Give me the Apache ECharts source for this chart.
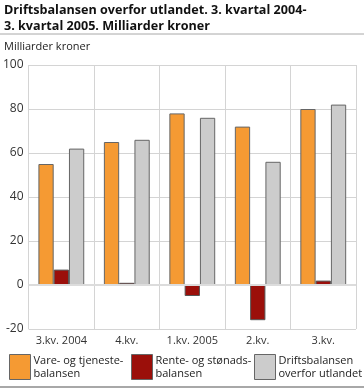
<!DOCTYPE html>
<html><head><meta charset="utf-8">
<script src="https://cdn.jsdelivr.net/npm/echarts@6/dist/echarts.min.js"></script>
<style>html,body{margin:0;padding:0;background:#fff}#c{width:364px;height:389px}</style>
</head><body><div id="c"></div>
<script>
const categories = ['3.kv. 2004', '4.kv.', '1.kv. 2005', '2.kv.', '3.kv.'];
const vare = [55, 65, 78, 72, 80];
const rente = [7, 1, -5, -16, 2];
const drifts = [62, 66, 76, 56, 82];
const seriesNames = ['Vare- og tjeneste-\nbalansen', 'Rente- og stønads-\nbalansen', 'Driftsbalansen\noverfor utlandet'];
const colors = ['#f59a33', '#9b0f0a', '#cccccc'];
const font = 'Open Sans';

const chart = echarts.init(document.getElementById('c'), null, {renderer: 'canvas'});
const legendBase = {
  orient: 'horizontal', top: 354, itemWidth: 21, itemHeight: 25, itemGap: 5,
  icon: 'rect', padding: 0,
  itemStyle: {borderColor: '#666', borderWidth: 1},
  textStyle: {fontFamily: font, fontSize: 11, color: '#222', lineHeight: 13, padding: [0,0,0,-2]}
};
chart.setOption({
  animation: false,
  color: colors,
  title: [
    {text: 'Driftsbalansen overfor utlandet. 3. kvartal 2004-\n3. kvartal 2005. Milliarder kroner', left: 4, top: 2, padding: 0,
     textStyle: {fontFamily: font, fontSize: 12.6, fontWeight: 'bold', color: '#111', lineHeight: 16}},
    {text: 'Milliarder kroner', left: 4, top: 41, padding: 0,
     textStyle: {fontFamily: font, fontSize: 11, fontWeight: 'normal', color: '#222'}}
  ],
  graphic: [
    {type: 'line', shape: {x1: 0, y1: 34, x2: 364, y2: 34}, style: {stroke: '#a8a8a8', lineWidth: 1}},
    {type: 'line', shape: {x1: 0, y1: 387, x2: 364, y2: 387}, style: {stroke: '#a8a8a8', lineWidth: 2}}
  ],
  legend: [
    Object.assign({}, legendBase, {left: 9, data: [seriesNames[0]]}),
    Object.assign({}, legendBase, {left: 131, data: [seriesNames[1]]}),
    Object.assign({}, legendBase, {left: 254, data: [seriesNames[2]]})
  ],
  grid: {left: 26, right: 8, top: 65, bottom: 60, containLabel: false},
  xAxis: {
    type: 'category', data: categories,
    axisLine: {show: false}, axisTick: {show: false, interval: 0},
    axisLabel: {fontFamily: font, fontSize: 11, color: '#333', margin: 6, interval: 0},
    splitLine: {show: true, interval: 0, lineStyle: {color: '#d4d4d4', width: 1}}
  },
  yAxis: {
    type: 'value', min: -20, max: 100, interval: 20,
    axisLine: {show: false}, axisTick: {show: false},
    axisLabel: {fontFamily: font, fontSize: 12, color: '#333', margin: 5},
    splitLine: {show: true, lineStyle: {color: '#d4d4d4', width: 1}}
  },
  series: [
    {name: seriesNames[0], type: 'bar', data: vare, barGap: '0%', barCategoryGap: '30%',
     itemStyle: {color: colors[0], borderColor: '#666', borderWidth: 1},
     markLine: {silent: true, symbol: 'none', label: {show: false}, lineStyle: {color: '#dcdcdc', width: 2, type: 'solid'}, data: [{yAxis: 0}]}},
    {name: seriesNames[1], type: 'bar', data: rente, barGap: '0%', barCategoryGap: '30%',
     itemStyle: {color: colors[1], borderColor: '#555', borderWidth: 1}},
    {name: seriesNames[2], type: 'bar', data: drifts, barGap: '0%', barCategoryGap: '30%',
     itemStyle: {color: colors[2], borderColor: '#666', borderWidth: 1}}
  ]
});
</script></body></html>
